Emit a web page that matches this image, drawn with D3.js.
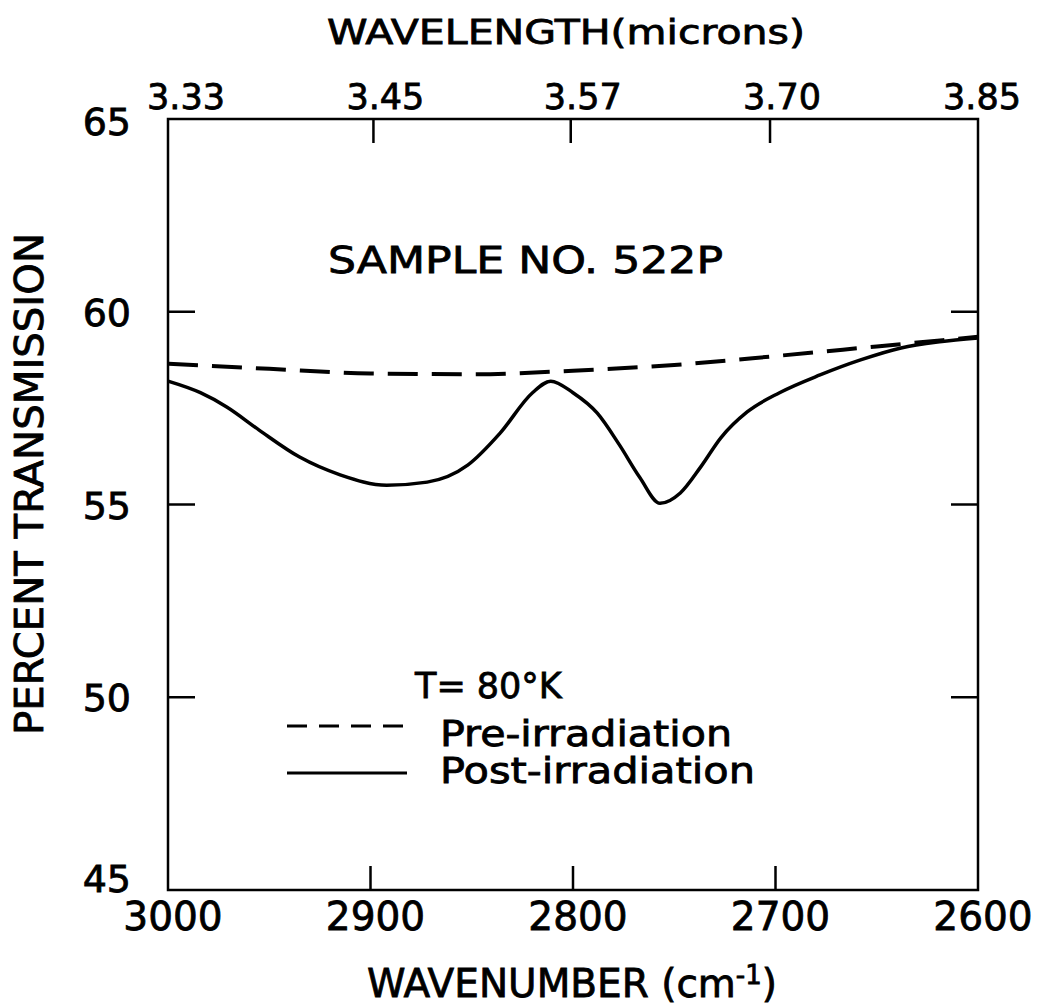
<!DOCTYPE html>
<html>
<head>
<meta charset="utf-8">
<script src="https://cdn.jsdelivr.net/npm/d3@7"></script>
<style>
  body { margin: 0; background: #fff; }
  text { font-family: "DejaVu Sans", sans-serif; fill: #000; stroke: #000; stroke-width: 0.8px; }
</style>
</head>
<body>
<svg id="chart" width="1039" height="1005"></svg>
<script>
// ---- data ----
var wavenumberTicks = [3000, 2900, 2800, 2700, 2600];
var wavelengthTicks = ["3.33", "3.45", "3.57", "3.70", "3.85"];
var transmissionTicks = [65, 60, 55, 50, 45];

// pre-irradiation (dashed)
var preWave = [3000, 2950, 2900, 2850, 2800, 2750, 2700, 2650, 2600];
var preT    = [58.65, 58.52, 58.4, 58.38, 58.47, 58.62, 58.85, 59.1, 59.35];

// post-irradiation (solid)
var postWave = [3000, 2984, 2971, 2955, 2935, 2915, 2892, 2872, 2852, 2836, 2820, 2811,
                2800, 2788, 2777, 2767, 2757, 2747, 2737, 2727, 2714, 2698, 2678, 2658, 2638, 2619, 2600];
var postT    = [58.2, 57.9, 57.53, 56.93, 56.23, 55.77, 55.5, 55.58, 56.02, 56.85, 57.9, 58.2,
                57.9, 57.37, 56.54, 55.7, 55.03, 55.3, 55.97, 56.73, 57.4, 57.9, 58.36, 58.75, 59.06, 59.22, 59.32];

(function(){
  var svg = d3.select("#chart");
  var left = 168, right = 978, top = 119, bottom = 890;

  var x = d3.scaleLinear().domain([3000, 2600]).range([left, right]);
  var y = d3.scaleLinear().domain([45, 65]).range([bottom, top]);

  // frame
  svg.append("rect")
    .attr("x", left).attr("y", top)
    .attr("width", right - left).attr("height", bottom - top)
    .attr("fill", "none").attr("stroke", "#000").attr("stroke-width", 2.5);

  var tickLen = 24;

  // bottom axis: inner ticks + labels
  var inner = wavenumberTicks.slice(1, -1);
  svg.selectAll(".bt").data(inner).enter().append("line")
    .attr("x1", d => x(d)).attr("x2", d => x(d))
    .attr("y1", bottom).attr("y2", bottom - tickLen)
    .attr("stroke", "#000").attr("stroke-width", 2.5);
  svg.selectAll(".bl").data(wavenumberTicks).enter().append("text")
    .attr("x", d => x(d) + 5).attr("y", 930)
    .attr("text-anchor", "middle").attr("font-size", 39)
    .text(d => d);

  // top axis: wavelength in microns -> wavenumber 1e4/lambda
  var topTicks = wavelengthTicks.filter(d => {
    var w = 1e4 / +d; return w < 3000 && w > 2600;
  });
  svg.selectAll(".tt").data(topTicks).enter().append("line")
    .attr("x1", d => x(1e4 / +d)).attr("x2", d => x(1e4 / +d))
    .attr("y1", top).attr("y2", top + tickLen)
    .attr("stroke", "#000").attr("stroke-width", 2.5);
  svg.selectAll(".tl").data(wavelengthTicks).enter().append("text")
    .attr("x", d => Math.max(186, Math.min(982, x(1e4 / +d) + 12))).attr("y", 109)
    .attr("text-anchor", "middle").attr("font-size", 35)
    .text(d => d);

  // left / right ticks
  var yInner = transmissionTicks.slice(1, -1);
  svg.selectAll(".lt").data(yInner).enter().append("line")
    .attr("x1", left).attr("x2", left + 27)
    .attr("y1", d => y(d)).attr("y2", d => y(d))
    .attr("stroke", "#000").attr("stroke-width", 2.5);
  svg.selectAll(".rt").data(yInner).enter().append("line")
    .attr("x1", right).attr("x2", right - 27)
    .attr("y1", d => y(d)).attr("y2", d => y(d))
    .attr("stroke", "#000").attr("stroke-width", 2.5);
  svg.selectAll(".yl").data(transmissionTicks).enter().append("text")
    .attr("x", 131)
    .attr("y", d => d === 65 ? y(d) + 16 : d === 45 ? y(d) + 2 : y(d) + 14)
    .attr("text-anchor", "end").attr("font-size", 38)
    .text(d => d);

  // titles
  svg.append("text").attr("x", 566).attr("y", 44)
    .attr("text-anchor", "middle").attr("font-size", 34)
    .attr("textLength", 478).attr("lengthAdjust", "spacingAndGlyphs")
    .text("WAVELENGTH(microns)");

  var xt = svg.append("text").attr("x", 367).attr("y", 997)
    .attr("font-size", 39);
  xt.append("tspan").text("WAVENUMBER (cm");
  xt.append("tspan").attr("dy", -13).attr("font-size", 26).text("-1");
  xt.append("tspan").attr("dy", 13).text(")");

  svg.append("text")
    .attr("transform", "translate(43,484) rotate(-90)")
    .attr("text-anchor", "middle").attr("font-size", 39)
    .attr("textLength", 502).attr("lengthAdjust", "spacingAndGlyphs")
    .text("PERCENT  TRANSMISSION");

  svg.append("text").attr("x", 328).attr("y", 273)
    .attr("font-size", 38)
    .attr("textLength", 395).attr("lengthAdjust", "spacingAndGlyphs")
    .text("SAMPLE  NO.  522P");

  // curves
  var line = d3.line().x(d => x(d[0])).y(d => y(d[1])).curve(d3.curveMonotoneX);

  svg.append("path")
    .attr("d", line(preWave.map((w, i) => [w, preT[i]])))
    .attr("fill", "none").attr("stroke", "#000").attr("stroke-width", 4)
    .attr("stroke-dasharray", "30,14");

  svg.append("path")
    .attr("d", line(postWave.map((w, i) => [w, postT[i]])))
    .attr("fill", "none").attr("stroke", "#000").attr("stroke-width", 3.5);

  // legend
  svg.append("text").attr("x", 415).attr("y", 698).attr("font-size", 35).text("T= 80°K");
  svg.append("line").attr("x1", 287).attr("x2", 407).attr("y1", 726).attr("y2", 726)
    .attr("stroke", "#000").attr("stroke-width", 3).attr("stroke-dasharray", "20,12");
  svg.append("text").attr("x", 440).attr("y", 746).attr("font-size", 35)
    .attr("textLength", 292).attr("lengthAdjust", "spacingAndGlyphs").text("Pre-irradiation");
  svg.append("line").attr("x1", 287).attr("x2", 407).attr("y1", 773).attr("y2", 773)
    .attr("stroke", "#000").attr("stroke-width", 3);
  svg.append("text").attr("x", 440).attr("y", 783).attr("font-size", 35)
    .attr("textLength", 315).attr("lengthAdjust", "spacingAndGlyphs").text("Post-irradiation");
})();
</script>
</body>
</html>
